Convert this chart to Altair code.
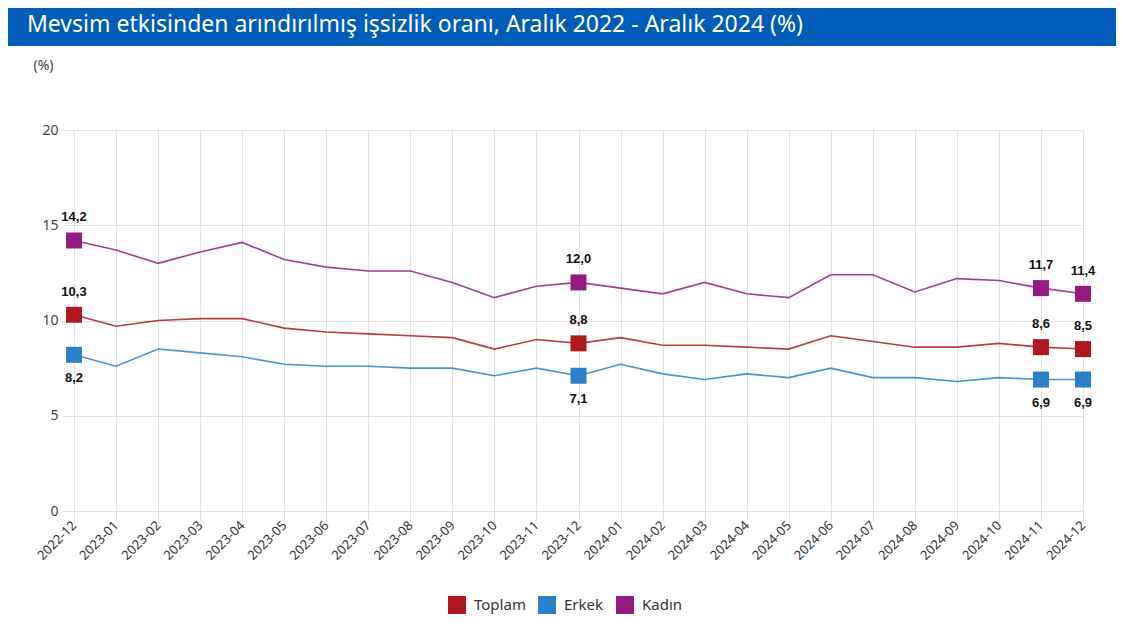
import altair as alt
import pandas as pd

months = ["2022-12", "2023-01", "2023-02", "2023-03", "2023-04", "2023-05", "2023-06",
          "2023-07", "2023-08", "2023-09", "2023-10", "2023-11", "2023-12", "2024-01",
          "2024-02", "2024-03", "2024-04", "2024-05", "2024-06", "2024-07", "2024-08",
          "2024-09", "2024-10", "2024-11", "2024-12"]
toplam = [10.3, 9.7, 10.0, 10.1, 10.1, 9.6, 9.4, 9.3, 9.2, 9.1, 8.5, 9.0, 8.8, 9.1,
          8.7, 8.7, 8.6, 8.5, 9.2, 8.9, 8.6, 8.6, 8.8, 8.6, 8.5]
erkek = [8.2, 7.6, 8.5, 8.3, 8.1, 7.7, 7.6, 7.6, 7.5, 7.5, 7.1, 7.5, 7.1, 7.7,
         7.2, 6.9, 7.2, 7.0, 7.5, 7.0, 7.0, 6.8, 7.0, 6.9, 6.9]
kadin = [14.2, 13.7, 13.0, 13.6, 14.1, 13.2, 12.8, 12.6, 12.6, 12.0, 11.2, 11.8, 12.0, 11.7,
         11.4, 12.0, 11.4, 11.2, 12.4, 12.4, 11.5, 12.2, 12.1, 11.7, 11.4]
series_names = ["Toplam", "Erkek", "Kadın"]
series_colors = ["#b0171f", "#2a80c9", "#951b81"]
labeled_months = ["2022-12", "2023-12", "2024-11", "2024-12"]
y_ticks = [0, 5, 10, 15, 20]
title_text = "Mevsim etkisinden arındırılmış işsizlik oranı, Aralık 2022 - Aralık 2024 (%)"

rows = []
for name, vals in zip(series_names, [toplam, erkek, kadin]):
    for m, v in zip(months, vals):
        rows.append({"Ay": m, "Seri": name, "Oran": v,
                     "Etiket": f"{v:.1f}".replace(".", ","),
                     "Isaret": m in labeled_months,
                     "Alt": name == "Erkek"})
df = pd.DataFrame(rows)

W, H = 1009, 381
PL, PT, PR, PB = 66, 122, 33, 109
FONT = "Noto Sans"
GRID = "#e2e2e2"

x_enc = alt.X("Ay:O", sort=months, scale=alt.Scale(type="point", padding=0),
              axis=alt.Axis(title=None, labelAngle=-45, labelAlign="right", labelBaseline="middle",
                            labelFont=FONT, labelFontSize=13, labelColor="#333",
                            tickColor=GRID, tickSize=10, labelPadding=2, domain=False,
                            grid=True, gridColor=GRID, labelOverlap=False))
y_enc = alt.Y("Oran:Q", scale=alt.Scale(domain=[0, 20], nice=False),
              axis=alt.Axis(values=y_ticks, title="(%)", titleAngle=0, titleAlign="left",
                            titleBaseline="middle", titleX=-41, titleY=-65, titleFont=FONT,
                            titleFontSize=14, titleFontWeight="normal", titleColor="#444",
                            labelFont=FONT, labelFontSize=14, labelColor="#444",
                            tickColor=GRID, tickSize=12, labelPadding=4, domain=False,
                            grid=True, gridColor=GRID))

color_scale = alt.Scale(domain=series_names, range=series_colors)
base = alt.Chart(df).encode(x=x_enc, y=y_enc)

points = base.transform_filter("datum.Isaret").mark_square(
    size=256, opacity=1, filled=True
).encode(
    color=alt.Color("Seri:N", scale=color_scale,
                    legend=alt.Legend(title=None, orient="none", legendX=374, legendY=466,
                                      direction="horizontal", symbolType="square", symbolSize=324,
                                      symbolStrokeWidth=0, symbolOpacity=1, labelFont=FONT,
                                      labelFontSize=15, labelColor="#333", labelOffset=8,
                                      columnPadding=12))
)
lines = base.mark_line(strokeWidth=1.6, opacity=0.85).encode(
    color=alt.Color("Seri:N", scale=color_scale, legend=None)
)
labels_up = base.transform_filter("datum.Isaret && !datum.Alt").mark_text(
    dy=-23, font="Liberation Sans", fontSize=13, fontWeight="bold", color="#111"
).encode(text="Etiket:N")
labels_down = base.transform_filter("datum.Isaret && datum.Alt").mark_text(
    dy=23, font="Liberation Sans", fontSize=13, fontWeight="bold", color="#111"
).encode(text="Etiket:N")

title_df = pd.DataFrame({"t": [title_text]})
bar = alt.Chart(title_df).mark_rect(color="#005cb9").encode(
    x=alt.value(-PL), x2=alt.value(W + PR), y=alt.value(-PT), y2=alt.value(-PT + 38))
title = alt.Chart(title_df).mark_text(
    align="left", baseline="middle", font=FONT, fontSize=23, color="white"
).encode(x=alt.value(-47), y=alt.value(-105), text="t:N")

chart = alt.layer(bar, title, points, lines, labels_up, labels_down).properties(
    width=W, height=H,
    autosize=alt.AutoSizeParams(type="none"),
    padding={"left": PL, "top": PT, "right": PR, "bottom": PB},
).configure_view(stroke=None)

chart.save("out.html", embed_options={"renderer": "svg", "actions": False})
